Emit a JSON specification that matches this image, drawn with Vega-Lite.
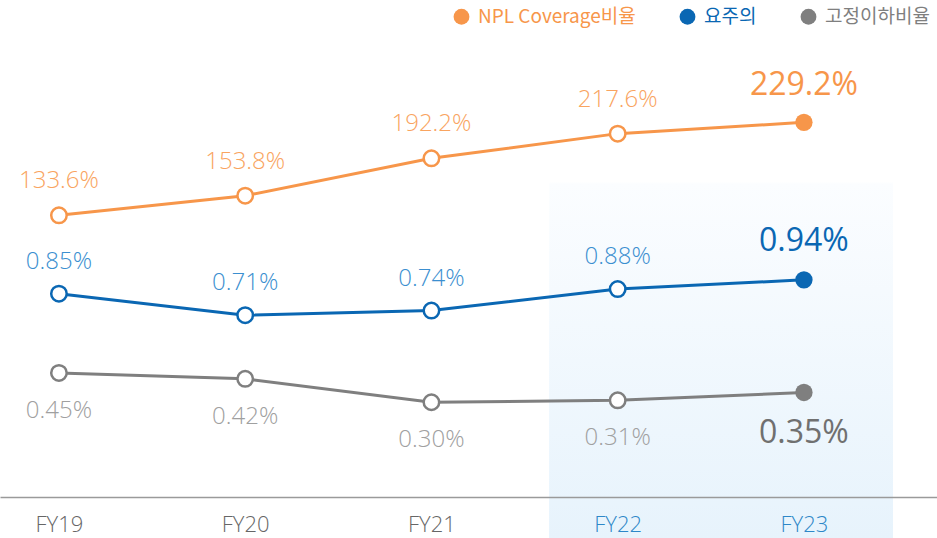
{
  "$schema": "https://vega.github.io/schema/vega-lite/v6.json",
  "width": 937,
  "height": 497,
  "autosize": {"type": "none"},
  "padding": {"left": 0, "top": 0, "right": 0, "bottom": 41},
  "background": "#ffffff",
  "config": {"view": {"stroke": null}, "font": "Open Sans"},
  "data": {"values": [
    {"fy": "FY19", "series": "NPL Coverage비율", "value": 133.6, "label": "133.6%"},
    {"fy": "FY20", "series": "NPL Coverage비율", "value": 153.8, "label": "153.8%"},
    {"fy": "FY21", "series": "NPL Coverage비율", "value": 192.2, "label": "192.2%"},
    {"fy": "FY22", "series": "NPL Coverage비율", "value": 217.6, "label": "217.6%"},
    {"fy": "FY23", "series": "NPL Coverage비율", "value": 229.2, "label": "229.2%"},
    {"fy": "FY19", "series": "요주의", "value": 0.85, "label": "0.85%"},
    {"fy": "FY20", "series": "요주의", "value": 0.71, "label": "0.71%"},
    {"fy": "FY21", "series": "요주의", "value": 0.74, "label": "0.74%"},
    {"fy": "FY22", "series": "요주의", "value": 0.88, "label": "0.88%"},
    {"fy": "FY23", "series": "요주의", "value": 0.94, "label": "0.94%"},
    {"fy": "FY19", "series": "고정이하비율", "value": 0.45, "label": "0.45%"},
    {"fy": "FY20", "series": "고정이하비율", "value": 0.42, "label": "0.42%"},
    {"fy": "FY21", "series": "고정이하비율", "value": 0.30, "label": "0.30%"},
    {"fy": "FY22", "series": "고정이하비율", "value": 0.31, "label": "0.31%"},
    {"fy": "FY23", "series": "고정이하비율", "value": 0.35, "label": "0.35%"}
  ]},
  "encoding": {
    "x": {
      "field": "fy", "type": "ordinal",
      "scale": {"type": "point", "padding": 0.5155, "align": 0.307},
      "axis": {
        "title": null, "ticks": false, "grid": false,
        "domainColor": "#9a9a9a", "domainWidth": 1.5,
        "labelFontSize": 22, "labelPadding": 17, "labelAngle": 0,
        "labelFont": "Open Sans", "labelFontWeight": 300,
        "labelColor": {"condition": {"test": "datum.value == 'FY22' || datum.value == 'FY23'", "value": "#2d87c8"}, "value": "#666666"}
      }
    }
  },
  "layer": [
    {
      "mark": {
        "type": "rect", "xOffset": -68, "x2Offset": 89,
        "y2": {"expr": "height + 41"},
        "fill": {"gradient": "linear", "x1": 0, "y1": 0, "x2": 0, "y2": 1,
          "stops": [
            {"offset": 0, "color": "#ffffff"},
            {"offset": 0.338, "color": "#ffffff"},
            {"offset": 0.342, "color": "#fbfdff"},
            {"offset": 1, "color": "#e7f3fc"}
          ]}
      },
      "encoding": {
        "x": {"datum": "FY22", "type": "ordinal"},
        "x2": {"datum": "FY23"}
      }
    },
    {
      "transform": [{"filter": "datum.series == 'NPL Coverage비율'"}],
      "encoding": {"y": {"field": "value", "type": "quantitative", "scale": {"domain": [-156, 355], "zero": false, "nice": false}, "axis": null}},
      "layer": [
        {
          "mark": {"type": "line", "strokeWidth": 3},
          "encoding": {
            "color": {
              "field": "series", "type": "nominal",
              "scale": {"domain": ["NPL Coverage비율", "요주의", "고정이하비율"], "range": ["#f7964a", "#0a67b3", "#7f7f7f"]},
              "legend": {
                "orient": "top-right", "direction": "horizontal", "title": null, "offset": 7,
                "labelFontSize": 19, "labelFont": "Noto Sans CJK KR", "labelOffset": 7, "labelLimit": 300,
                "columnPadding": 42, "symbolType": "circle", "symbolSize": 250,
                "encode": {
                  "symbols": {"update": {"fill": {"scale": "color", "field": "value"}, "strokeWidth": {"value": 0}}},
                  "labels": {"update": {"fill": {"scale": "color", "field": "value"}}}
                }
              }
            }
          }
        },
        {
          "transform": [{"filter": "datum.fy != 'FY23'"}],
          "mark": {"type": "point", "shape": "circle", "filled": true, "fill": "#ffffff", "stroke": "#f7964a", "strokeWidth": 2.5, "size": 240, "opacity": 1}
        },
        {
          "transform": [{"filter": "datum.fy == 'FY23'"}],
          "mark": {"type": "point", "shape": "circle", "filled": true, "fill": "#f7964a", "size": 300, "opacity": 1}
        },
        {
          "transform": [{"filter": "datum.fy != 'FY23'"}],
          "mark": {"type": "text", "dy": -34, "fontSize": 24, "color": "#f9a460", "fontWeight": 300},
          "encoding": {"text": {"field": "label"}}
        },
        {
          "transform": [{"filter": "datum.fy == 'FY23'"}],
          "mark": {"type": "text", "dy": -37, "fontSize": 32, "color": "#f7964a", "fontWeight": 400},
          "encoding": {"text": {"field": "label"}}
        }
      ]
    },
    {
      "transform": [{"filter": "datum.series == '요주의'"}],
      "encoding": {"y": {"field": "value", "type": "quantitative", "scale": {"domain": [-0.474, 2.762], "zero": false, "nice": false}, "axis": null}},
      "layer": [
        {"mark": {"type": "line", "strokeWidth": 3, "color": "#0a67b3"}},
        {
          "transform": [{"filter": "datum.fy != 'FY23'"}],
          "mark": {"type": "point", "shape": "circle", "filled": true, "fill": "#ffffff", "stroke": "#0a67b3", "strokeWidth": 2.5, "size": 240, "opacity": 1}
        },
        {
          "transform": [{"filter": "datum.fy == 'FY23'"}],
          "mark": {"type": "point", "shape": "circle", "filled": true, "fill": "#0a67b3", "size": 300, "opacity": 1}
        },
        {
          "transform": [{"filter": "datum.fy != 'FY23'"}],
          "mark": {"type": "text", "dy": -32, "fontSize": 24, "color": "#3b8fd0", "fontWeight": 300},
          "encoding": {"text": {"field": "label"}}
        },
        {
          "transform": [{"filter": "datum.fy == 'FY23'"}],
          "mark": {"type": "text", "dy": -39, "fontSize": 32, "color": "#0a67b3", "fontWeight": 400},
          "encoding": {"text": {"field": "label"}}
        }
      ]
    },
    {
      "transform": [{"filter": "datum.series == '고정이하비율'"}],
      "encoding": {"y": {"field": "value", "type": "quantitative", "scale": {"domain": [-0.185, 2.359], "zero": false, "nice": false}, "axis": null}},
      "layer": [
        {"mark": {"type": "line", "strokeWidth": 3, "color": "#7f7f7f"}},
        {
          "transform": [{"filter": "datum.fy != 'FY23'"}],
          "mark": {"type": "point", "shape": "circle", "filled": true, "fill": "#ffffff", "stroke": "#7f7f7f", "strokeWidth": 2.5, "size": 240, "opacity": 1}
        },
        {
          "transform": [{"filter": "datum.fy == 'FY23'"}],
          "mark": {"type": "point", "shape": "circle", "filled": true, "fill": "#7f7f7f", "size": 300, "opacity": 1}
        },
        {
          "transform": [{"filter": "datum.fy != 'FY23'"}],
          "mark": {"type": "text", "dy": 38, "fontSize": 24, "color": "#a0a0a0", "fontWeight": 300},
          "encoding": {"text": {"field": "label"}}
        },
        {
          "transform": [{"filter": "datum.fy == 'FY23'"}],
          "mark": {"type": "text", "dy": 41, "fontSize": 32, "color": "#707070", "fontWeight": 400},
          "encoding": {"text": {"field": "label"}}
        }
      ]
    }
  ],
  "resolve": {"scale": {"y": "independent"}}
}
